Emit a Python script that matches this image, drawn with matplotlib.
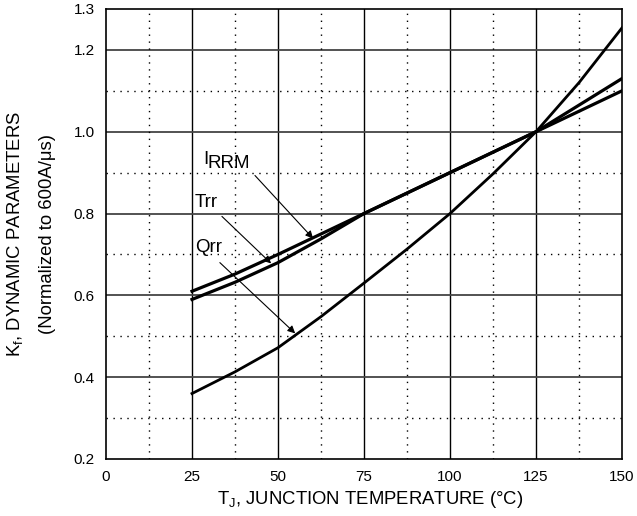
import numpy as np
import matplotlib.pyplot as plt
from matplotlib.ticker import MultipleLocator

plt.rcParams['font.family'] = ['Liberation Sans', 'DejaVu Sans']

# junction temperature (deg C) and normalized factors
tj = [25, 37.5, 50, 62.5, 75, 87.5, 100, 112.5, 125, 137.5, 150]
irrm = [0.61, 0.652, 0.70, 0.75, 0.80, 0.85, 0.90, 0.95, 1.00, 1.05, 1.10]
trr = [0.59, 0.632, 0.68, 0.738, 0.80, 0.85, 0.90, 0.95, 1.00, 1.065, 1.13]
qrr = [0.36, 0.413, 0.472, 0.548, 0.630, 0.713, 0.80, 0.897, 1.00, 1.12, 1.254]

xticks = [0, 25, 50, 75, 100, 125, 150]
yticks = [0.2, 0.4, 0.6, 0.8, 1.0, 1.2, 1.3]

fig = plt.figure(figsize=(6.37, 5.16), dpi=100)
ax = fig.add_axes([0.1664, 0.1105, 0.8101, 0.8721])

ax.set_xlim(0, 150)
ax.set_ylim(0.2, 1.3)
ax.set_xticks(xticks)
ax.set_yticks(yticks)
ax.set_yticklabels(['0.2', '0.4', '0.6', '0.8', '1.0', '1.2', '1.3'])
ax.xaxis.set_minor_locator(MultipleLocator(12.5))
ax.yaxis.set_minor_locator(MultipleLocator(0.1))
ax.tick_params(which='both', length=0, labelsize=11, pad=8)

# solid major grid, dotted minor grid
for x in xticks[1:-1]:
    ax.axvline(x, color='black', lw=1.0, zorder=1)
for y in [0.4, 0.6, 0.8, 1.0, 1.2]:
    ax.axhline(y, color='#444444', lw=1.3, zorder=1)
for x in np.arange(12.5, 150, 25):
    ax.axvline(x, color='black', lw=1.0, ls=(0, (1, 4)), zorder=1)
for y in [0.3, 0.5, 0.7, 0.9, 1.1]:
    ax.axhline(y, color='black', lw=1.0, ls=(0, (1, 4)), zorder=1)

for s in ax.spines.values():
    s.set_linewidth(1.2)

ax.plot(tj, irrm, color='black', lw=2.3, zorder=3)
ax.plot(tj, trr, color='black', lw=2.3, zorder=3)
ax.plot(tj, qrr, color='black', lw=2.0, zorder=3)

arrow = dict(arrowstyle='-|>', color='black', lw=0.8, mutation_scale=11,
             shrinkA=0, shrinkB=0)
ax.annotate('', xy=(60.2, 0.739), xytext=(43.3, 0.893), arrowprops=arrow, zorder=4)
ax.annotate('', xy=(48.0, 0.678), xytext=(33.7, 0.793), arrowprops=arrow, zorder=4)
ax.annotate('', xy=(55.0, 0.507), xytext=(33.1, 0.680), arrowprops=arrow, zorder=4)

ax.text(28.2, 0.922, 'I', fontsize=13.5, ha='left', va='baseline')
ax.text(29.4, 0.912, 'RRM', fontsize=13.5, ha='left', va='baseline')
ax.text(25.9, 0.817, 'Trr', fontsize=13.5, ha='left', va='baseline')
ax.text(25.9, 0.707, 'Qrr', fontsize=13.5, ha='left', va='baseline')

ax.set_xlabel(r'T$_\mathregular{J}$, JUNCTION TEMPERATURE (°C)', fontsize=13.3)
ax.xaxis.set_label_coords(0.512, -0.066)
ax.set_ylabel('K$_\\mathregular{f}$, DYNAMIC PARAMETERS\n(Normalized to 600A/μs)',
              fontsize=13.3, linespacing=2.05)
ax.yaxis.set_label_coords(-0.097, 0.5)

fig.savefig('out.png', dpi=100)
